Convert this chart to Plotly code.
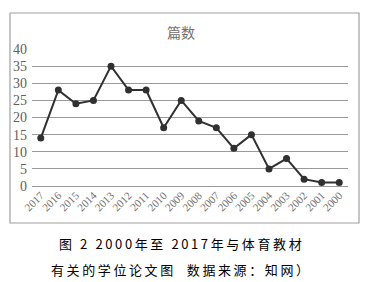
import plotly.graph_objects as go

years = ["2017","2016","2015","2014","2013","2012","2011","2010","2009",
         "2008","2007","2006","2005","2004","2003","2002","2001","2000"]
counts = [14, 28, 24, 25, 35, 28, 28, 17, 25, 19, 17, 11, 15, 5, 8, 2, 1, 1]
y_ticks = [0, 5, 10, 15, 20, 25, 30, 35, 40]
title_text = "篇数"
caption1 = "图 2 2000年至 2017年与体育教材"
caption2 = "有关的学位论文图  数据来源：知网）"

def spaced(s):
    return "\u2009".join(list(s))

fig = go.Figure()
fig.add_trace(go.Scatter(
    x=years, y=counts, mode="lines+markers",
    line=dict(color="#303030", width=2),
    marker=dict(color="#303030", size=7),
    showlegend=False, cliponaxis=False,
))

W, H = 375, 282
ml, mr, mt, mb = 32, 27, 49, 96
pw = W - ml - mr
ph = H - mt - mb
def px(x): return (x - ml) / pw
def py(y): return (H - mb - y) / ph

fig.update_layout(
    width=W, height=H,
    margin=dict(l=ml, r=mr, t=mt, b=mb),
    paper_bgcolor="white", plot_bgcolor="white",
    font=dict(family="Liberation Serif", color="#606060"),
    xaxis=dict(type="category", range=[-0.5, 17.5], tickangle=-45,
               tickfont=dict(size=11, family="Liberation Serif", color="#707070"),
               showgrid=False, zeroline=False, showline=False, ticks=""),
    yaxis=dict(range=[0, 40], tickvals=y_ticks,
               tickfont=dict(size=14, family="Liberation Serif", color="#606060"),
               showgrid=True, gridcolor="#9a9a9a", gridwidth=1,
               zeroline=True, zerolinecolor="#9a9a9a", zerolinewidth=1,
               showline=False, ticks="", ticklabelstandoff=4),
    shapes=[dict(type="rect", xref="paper", yref="paper",
                 x0=px(10), x1=px(359), y0=py(223), y1=py(13),
                 line=dict(color="#a0a0a0", width=1.2), layer="below")],
    annotations=[
        dict(text=title_text, x=px(181), y=py(32), xref="paper", yref="paper",
             showarrow=False, font=dict(size=14, family="Noto Sans CJK SC", color="#707070"),
             xanchor="center", yanchor="middle"),
        dict(text=spaced(caption1), x=px(180), y=py(243), xref="paper", yref="paper",
             showarrow=False, font=dict(size=13, family="Noto Sans CJK SC", color="#000000"),
             xanchor="center", yanchor="middle"),
        dict(text=spaced(caption2), x=px(180), y=py(269), xref="paper", yref="paper",
             showarrow=False, font=dict(size=13, family="Noto Sans CJK SC", color="#000000"),
             xanchor="center", yanchor="middle"),
    ],
)
fig.write_html("out.html")
